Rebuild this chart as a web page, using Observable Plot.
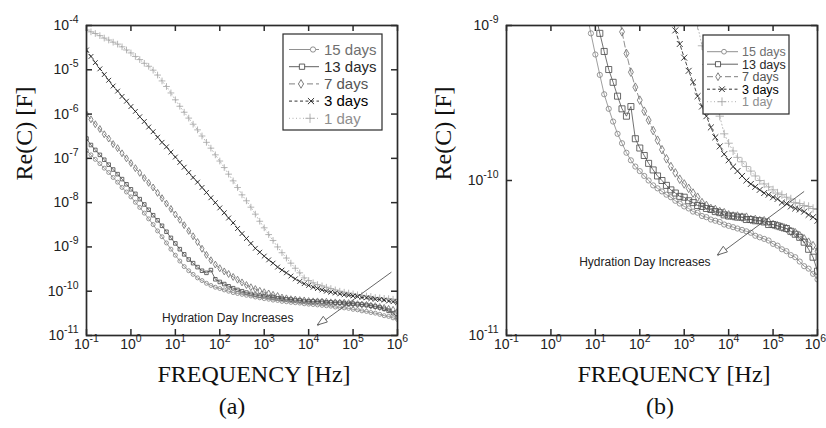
<!DOCTYPE html>
<html><head><meta charset="utf-8">
<script src="https://cdn.jsdelivr.net/npm/d3@7"></script>
<script src="https://cdn.jsdelivr.net/npm/@observablehq/plot@0.6"></script>
<style>
html,body{margin:0;padding:0;background:#fff;}
#wrap{display:flex;width:826px;height:428px;overflow:hidden;background:#fff;}
#wrap svg{flex:none;}
</style></head><body><div id="wrap"></div>
<script>
// ---------- data ----------
const freq = [0.1,0.126,0.158,0.2,0.251,0.316,0.398,0.501,0.631,0.794,
  1,1.26,1.58,2,2.51,3.16,3.98,5.01,6.31,7.94,
  10,12.6,15.8,20,25.1,31.6,39.8,50.1,63.1,79.4,
  100,126,158,200,251,316,398,501,631,794,
  1000,1260,1580,2000,2510,3160,3980,5010,6310,7940,
  1e4,1.26e4,1.58e4,2e4,2.51e4,3.16e4,3.98e4,5.01e4,6.31e4,7.94e4,
  1e5,1.26e5,1.58e5,2e5,2.51e5,3.16e5,3.98e5,5.01e5,6.31e5,7.94e5,
  1e6];

const c15 = [1.5e-7,1.2e-7,9.5e-8,7.6e-8,6.0e-8,4.8e-8,3.7e-8,2.9e-8,2.2e-8,1.74e-8,
  1.35e-8,1.02e-8,7.8e-9,5.8e-9,4.3e-9,3.2e-9,2.3e-9,1.7e-9,1.23e-9,8.9e-10,
  6.5e-10,4.8e-10,3.6e-10,2.9e-10,2.4e-10,2.0e-10,1.74e-10,1.51e-10,1.35e-10,1.23e-10,
  1.15e-10,1.07e-10,1.0e-10,9.3e-11,8.9e-11,8.5e-11,8.1e-11,7.8e-11,7.4e-11,7.1e-11,
  6.8e-11,6.6e-11,6.3e-11,6.2e-11,5.9e-11,5.8e-11,5.6e-11,5.5e-11,5.4e-11,5.2e-11,
  5.1e-11,5.0e-11,4.9e-11,4.8e-11,4.7e-11,4.6e-11,4.4e-11,4.3e-11,4.2e-11,4.1e-11,
  3.9e-11,3.8e-11,3.6e-11,3.5e-11,3.3e-11,3.2e-11,3.0e-11,2.8e-11,2.7e-11,2.5e-11,
  2.3e-11];

const c13 = [2.8e-7,2.0e-7,1.55e-7,1.2e-7,9.3e-8,7.2e-8,5.6e-8,4.4e-8,3.4e-8,2.6e-8,
  2.0e-8,1.58e-8,1.2e-8,9.1e-9,6.9e-9,5.2e-9,4.0e-9,3.0e-9,2.2e-9,1.6e-9,
  1.2e-9,8.9e-10,6.8e-10,5.2e-10,4.3e-10,3.5e-10,2.9e-10,2.6e-10,3.0e-10,1.86e-10,
  1.62e-10,1.45e-10,1.29e-10,1.17e-10,1.07e-10,1.0e-10,9.3e-11,8.7e-11,8.3e-11,7.9e-11,
  7.8e-11,7.4e-11,7.2e-11,6.9e-11,6.8e-11,6.6e-11,6.5e-11,6.3e-11,6.2e-11,6.0e-11,
  5.9e-11,5.9e-11,5.8e-11,5.8e-11,5.6e-11,5.6e-11,5.5e-11,5.5e-11,5.4e-11,5.2e-11,
  5.2e-11,5.1e-11,5.0e-11,4.9e-11,4.7e-11,4.5e-11,4.3e-11,4.0e-11,3.6e-11,3.2e-11,
  2.6e-11];

const c7 = [1.0e-6,7.6e-7,5.9e-7,4.6e-7,3.5e-7,2.8e-7,2.1e-7,1.7e-7,1.3e-7,1.0e-7,
  7.8e-8,6.0e-8,4.7e-8,3.6e-8,2.8e-8,2.2e-8,1.66e-8,1.26e-8,9.5e-9,7.2e-9,
  5.4e-9,4.1e-9,3.1e-9,2.3e-9,1.74e-9,1.29e-9,9.1e-10,6.6e-10,5.0e-10,4.0e-10,
  3.3e-10,2.8e-10,2.45e-10,2.1e-10,1.82e-10,1.58e-10,1.38e-10,1.23e-10,1.12e-10,1.02e-10,
  9.5e-11,8.9e-11,8.3e-11,7.8e-11,7.2e-11,6.9e-11,6.6e-11,6.5e-11,6.3e-11,6.2e-11,
  6.0e-11,5.9e-11,5.9e-11,5.8e-11,5.8e-11,5.6e-11,5.6e-11,5.5e-11,5.5e-11,5.4e-11,
  5.2e-11,5.1e-11,5.0e-11,4.9e-11,4.7e-11,4.6e-11,4.4e-11,4.2e-11,4.0e-11,3.8e-11,
  3.5e-11];

const c3 = [2.8e-5,2.0e-5,1.45e-5,1.05e-5,7.8e-6,5.8e-6,4.3e-6,3.3e-6,2.5e-6,1.95e-6,
  1.48e-6,1.15e-6,8.7e-7,6.8e-7,5.1e-7,4.0e-7,3.0e-7,2.3e-7,1.82e-7,1.38e-7,
  1.07e-7,8.1e-8,6.3e-8,4.8e-8,3.7e-8,2.9e-8,2.2e-8,1.7e-8,1.29e-8,1.0e-8,
  7.6e-9,5.9e-9,4.5e-9,3.5e-9,2.6e-9,2.0e-9,1.55e-9,1.2e-9,9.3e-10,7.6e-10,
  6.2e-10,5.1e-10,4.3e-10,3.5e-10,3.0e-10,2.6e-10,2.2e-10,1.9e-10,1.66e-10,1.48e-10,
  1.35e-10,1.23e-10,1.15e-10,1.07e-10,1.0e-10,9.5e-11,9.1e-11,8.7e-11,8.3e-11,8.1e-11,
  7.8e-11,7.6e-11,7.2e-11,7.1e-11,6.8e-11,6.6e-11,6.5e-11,6.3e-11,6.0e-11,5.8e-11,
  5.5e-11];

const c1 = [7.9e-5,7.2e-5,6.6e-5,5.9e-5,5.2e-5,4.7e-5,4.2e-5,3.8e-5,3.3e-5,2.8e-5,
  2.4e-5,2.0e-5,1.7e-5,1.4e-5,1.2e-5,9.8e-6,7.6e-6,5.6e-6,4.2e-6,3.0e-6,
  2.1e-6,1.5e-6,1.1e-6,8.1e-7,5.9e-7,4.4e-7,3.2e-7,2.3e-7,1.7e-7,1.2e-7,
  8.7e-8,6.2e-8,4.4e-8,3.1e-8,2.2e-8,1.5e-8,1.1e-8,7.9e-9,5.5e-9,3.8e-9,
  2.7e-9,1.9e-9,1.4e-9,1.0e-9,7.4e-10,5.6e-10,4.3e-10,3.3e-10,2.6e-10,2.0e-10,
  1.74e-10,1.55e-10,1.41e-10,1.32e-10,1.23e-10,1.15e-10,1.07e-10,1.0e-10,9.5e-11,9.1e-11,
  8.7e-11,8.3e-11,8.1e-11,7.8e-11,7.6e-11,7.2e-11,7.1e-11,6.9e-11,6.8e-11,6.6e-11,
  6.5e-11];

const seriesNames = ["15 days","13 days","7 days","3 days","1 day"];
const seriesValues = [c15, c13, c7, c3, c1];

const xTicks = [1e-1,1e0,1e1,1e2,1e3,1e4,1e5,1e6];
const xTickLabels = ["10^-1","10^0","10^1","10^2","10^3","10^4","10^5","10^6"];
const yTicksA = [1e-11,1e-10,1e-9,1e-8,1e-7,1e-6,1e-5,1e-4];
const yTickLabelsA = ["10^-11","10^-10","10^-9","10^-8","10^-7","10^-6","10^-5","10^-4"];
const yTicksB = [1e-11,1e-10,1e-9];
const yTickLabelsB = ["10^-11","10^-10","10^-9"];
const panelCaptions = ["(a)","(b)"];
const xTitle = "FREQUENCY [Hz]";
const yTitle = "Re(C) [F]";
const annotationText = "Hydration Day Increases";

// ---------- styles ----------
const colors = ["#858585","#4f4f4f","#727272","#1c1c1c","#a8a8a8"];
const textColors = ["#6f6f6f","#2a2a2a","#555555","#000000","#8e8e8e"];
const plotSymbols = ["circle","square","diamond","times","plus"];
const d3Symbols = [d3.symbolCircle, d3.symbolSquare, d3.symbolDiamond, d3.symbolTimes, d3.symbolPlus];
const dashes = [null, null, "6,3", "3,2.5", "1,2.5"];

const rows = seriesValues.map(vals => freq.map((f, j) => ({f, c: vals[j]})));

function fmt(ticks, labels) { return d => labels[ticks.indexOf(d)]; }

function makePanel(cfg) {
  const innerH = 428 - 25 - 93;
  const innerW = cfg.width - 86 - cfg.mr;
  const marks = [];
  for (let i = seriesNames.length - 1; i >= 0; i--) {
    marks.push(Plot.line(rows[i], {x: "f", y: "c", stroke: colors[i], strokeWidth: 0.8,
      strokeDasharray: dashes[i], clip: true}));
    marks.push(Plot.dot(rows[i], {x: "f", y: "c", symbol: plotSymbols[i], r: cfg.r[i],
      stroke: colors[i], fill: "none", strokeWidth: 0.85, clip: true}));
  }
  marks.push(
    Plot.frame({stroke: "#2b2b2b", strokeWidth: 1.7}),
    Plot.tickX(xTicks, {x: d => d, insetTop: innerH - 6, stroke: "#2b2b2b", strokeWidth: 1.5}),
    Plot.tickX(xTicks, {x: d => d, insetBottom: innerH - 6, stroke: "#2b2b2b", strokeWidth: 1.5}),
    Plot.tickY(cfg.yTicks, {y: d => d, insetRight: innerW - 6, stroke: "#2b2b2b", strokeWidth: 1.5}),
    Plot.tickY(cfg.yTicks, {y: d => d, insetLeft: innerW - 6, stroke: "#2b2b2b", strokeWidth: 1.5}),
    Plot.axisX(xTicks, {tickSize: 0, tickPadding: 4, tickFormat: fmt(xTicks, xTickLabels), label: null, fontSize: 14, fill: "#222"}),
    Plot.axisY(cfg.yTicks, {tickSize: 0, tickPadding: 8, tickFormat: fmt(cfg.yTicks, cfg.yLabels), label: null, fontSize: 14, fill: "#222"}),
    Plot.text([yTitle], {text: d => d, frameAnchor: "left", dx: cfg.yTitleDx, rotate: -90,
      fontSize: 24, fontFamily: "'Liberation Serif', 'Times New Roman', serif", fill: "#111"}),
    Plot.text([xTitle], {text: d => d, frameAnchor: "bottom", dx: cfg.xTitleDx, dy: 46,
      fontSize: 24, fontFamily: "'Liberation Serif', 'Times New Roman', serif", fill: "#111"}),
    Plot.text([cfg.caption], {text: d => d, frameAnchor: "bottom", dx: cfg.capDx, dy: 78,
      fontSize: 24, fontFamily: "'Liberation Serif', 'Times New Roman', serif", fill: "#111"}),
    Plot.link([cfg.annot], {x1: "x1", y1: "y1", x2: "x2", y2: "y2", stroke: "#555", strokeWidth: 0.9}),
    Plot.text([cfg.annot], {x: "tx", y: "ty", text: () => annotationText, fontSize: 12, fill: "#222"})
  );
  const svg = Plot.plot({
    width: cfg.width, height: 428,
    marginLeft: 86, marginRight: cfg.mr, marginTop: 25, marginBottom: 93,
    x: {type: "log", domain: [0.1, 1e6], label: null},
    y: {type: "log", domain: cfg.yDomain, label: null},
    style: {fontFamily: "'Liberation Sans', Arial, sans-serif", fontSize: "14px", color: "#222", background: "#fff", overflow: "visible"},
    marks
  });
  // superscript exponents in tick labels
  svg.querySelectorAll("text").forEach(t => {
    const m = /^10\^(.+)$/.exec(t.textContent);
    if (m) {
      t.textContent = "10";
      const ts = document.createElementNS("http://www.w3.org/2000/svg", "tspan");
      ts.setAttribute("dy", "-7");
      ts.setAttribute("font-size", "10.5");
      ts.textContent = m[1];
      t.appendChild(ts);
      if (cfg.lastShift && m[1] === "6") t.setAttribute("dx", cfg.lastShift);
    }
  });
  const sx = svg.scale("x"), sy = svg.scale("y");
  const g = d3.select(svg).append("g").attr("text-anchor", "start");
  // open triangular arrowhead
  const p1 = [sx.apply(cfg.annot.x1), sy.apply(cfg.annot.y1)];
  const p2 = [sx.apply(cfg.annot.x2), sy.apply(cfg.annot.y2)];
  const len = Math.hypot(p2[0] - p1[0], p2[1] - p1[1]);
  const u = [(p2[0] - p1[0]) / len, (p2[1] - p1[1]) / len];
  const n = [-u[1], u[0]];
  const L = 10, W = 3.5;
  const b = [p2[0] - u[0] * L, p2[1] - u[1] * L];
  g.append("path")
    .attr("d", `M${p2[0]},${p2[1]}L${b[0] + n[0] * W},${b[1] + n[1] * W}L${b[0] - n[0] * W},${b[1] - n[1] * W}Z`)
    .attr("fill", "#fff").attr("stroke", "#555").attr("stroke-width", 0.9);
  // legend
  const Lg = cfg.legend;
  g.append("rect").attr("x", Lg.x).attr("y", Lg.y).attr("width", Lg.w).attr("height", Lg.h)
    .attr("fill", "#fff").attr("stroke", "#2b2b2b").attr("stroke-width", 1.2);
  seriesNames.forEach((name, i) => {
    const cy = Lg.row0 + i * Lg.step;
    g.append("line").attr("x1", Lg.lx1).attr("x2", Lg.lx2).attr("y1", cy).attr("y2", cy)
      .attr("stroke", colors[i]).attr("stroke-width", 0.9).attr("stroke-dasharray", dashes[i]);
    g.append("path").attr("d", d3.symbol(d3Symbols[i], Lg.size[i])())
      .attr("transform", `translate(${Lg.mx[i]},${cy})`)
      .attr("fill", "#fff").attr("stroke", colors[i]).attr("stroke-width", 0.9);
    g.append("text").attr("x", Lg.tx).attr("y", cy).attr("dy", "0.35em").attr("text-anchor", "start")
      .attr("font-size", Lg.fs).attr("fill", textColors[i]).text(name);
  });
  return svg;
}

const wrap = document.getElementById("wrap");
wrap.appendChild(makePanel({
  width: 420, mr: 23, yDomain: [1e-11, 1e-4], yTicks: yTicksA, yLabels: yTickLabelsA,
  r: [2.0, 2.0, 2.1, 2.3, 2.3], caption: panelCaptions[0], capDx: -10, xTitleDx: 12, yTitleDx: -62,
  annot: {x1: 7.3e5, y1: 2.7e-10, x2: 1.6e4, y2: 1.68e-11, tx: 151, ty: 2.43e-11},
  legend: {x: 283, y: 34, w: 99, h: 96, row0: 49.5, step: 17.2, lx1: 289, lx2: 319,
    mx: [313, 302, 301, 311, 310], size: [22, 28, 22, 26, 30], tx: 324, fs: 15}
}));
wrap.appendChild(makePanel({
  width: 406, mr: 9, yDomain: [1e-11, 1e-9], yTicks: yTicksB, yLabels: yTickLabelsB,
  r: [2.6, 3.4, 2.6, 2.8, 2.8], caption: panelCaptions[1], capDx: -2, xTitleDx: 12, yTitleDx: -63,
  lastShift: -2,
  annot: {x1: 5.0e5, y1: 8.5e-11, x2: 5.7e3, y2: 3.28e-11, tx: 130, ty: 2.97e-11},
  legend: {x: 283, y: 35, w: 86, h: 79, row0: 51.7, step: 12.5, lx1: 287, lx2: 318,
    mx: [304, 298, 298, 302, 302], size: [18, 26, 18, 22, 26], tx: 322, fs: 12.5}
}));
</script></body></html>
